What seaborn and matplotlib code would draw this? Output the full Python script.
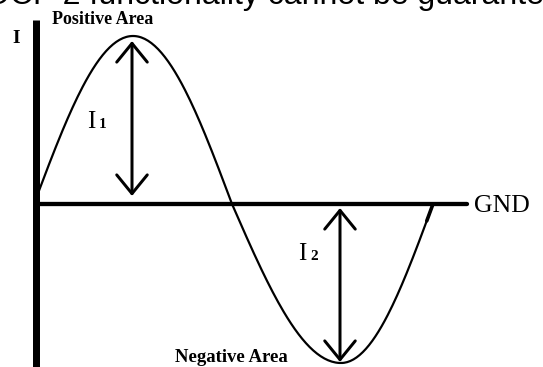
import numpy as np
import pandas as pd
import matplotlib
matplotlib.use("Agg")
import matplotlib.pyplot as plt
import seaborn as sns

# ---- data (pixel-like units, y grows downward) ----
header_text = "OCP 2 functionality cannot be guaranteed"
axis_label = "I"
gnd_label = "GND"
area_labels = ["Positive Area", "Negative Area"]
current_labels = ["I", "I"]
current_subs = ["1", "2"]

# waveform key points: zero, peak, zero, trough, zero
wave_key_x = [34, 133, 232, 341, 433]
wave_key_y = [204, 36, 204, 363, 204]
curve_start_x = 39
thick_end_from_y = 224

# axes
gnd_y = 204
gnd_end_x = 467
axis_x = 36
axis_top = 20

# current arrows (x, top tip, bottom tip)
arrow_x = [132, 340]
arrow_top = [41, 208]
arrow_bottom = [196, 362]

W, H = 543, 367
DPI = 100
PX = 72.0 / DPI  # points per pixel

sns.set_theme(style="white")
plt.rcParams["font.family"] = ["Liberation Serif", "DejaVu Serif"]

fig = plt.figure(figsize=(W / DPI, H / DPI), dpi=DPI)
fig.patch.set_facecolor("white")
ax = fig.add_axes([0, 0, 1, 1])
ax.set_xlim(0, W)
ax.set_ylim(H, 0)
ax.axis("off")

# build the waveform quarter by quarter through the read key points
xs, ys = [], []
for i in range(len(wave_key_x) - 1):
    x0, x1 = wave_key_x[i], wave_key_x[i + 1]
    y0, y1 = wave_key_y[i], wave_key_y[i + 1]
    t = np.linspace(0, 1, 60)
    if i % 2 == 0:   # zero -> extreme
        yy = y0 + (y1 - y0) * np.sin(np.pi * t / 2)
    else:            # extreme -> zero
        yy = y0 + (y1 - y0) * (1 - np.cos(np.pi * t / 2))
    xx = x0 + (x1 - x0) * t
    xs.extend(xx)
    ys.extend(yy)
wave = pd.DataFrame({"x": xs, "y": ys})
wave = wave[wave["x"] >= curve_start_x]

sns.lineplot(data=wave, x="x", y="y", sort=False, estimator=None,
             color="black", lw=2.2 * PX, ax=ax)
tail = wave[(wave["x"] > wave_key_x[3]) & (wave["y"] <= thick_end_from_y)]
sns.lineplot(data=tail, x="x", y="y", sort=False, estimator=None,
             color="black", lw=3.6 * PX, ax=ax)

# axes lines
ax.plot([axis_x, axis_x], [axis_top, H + 5], color="black", lw=7 * PX,
        solid_capstyle="butt")
ax.plot([axis_x, gnd_end_x], [gnd_y, gnd_y], color="black", lw=4.3 * PX,
        solid_capstyle="round")

# current arrows
for xa, yt, yb in zip(arrow_x, arrow_top, arrow_bottom):
    ax.annotate("", xy=(xa, yt), xytext=(xa, yb),
                arrowprops=dict(arrowstyle="<->,head_length=1.35,head_width=1.1",
                                color="black", lw=3.0 * PX,
                                shrinkA=0, shrinkB=0, mutation_scale=10))

# labels
ax.text(12, 43, axis_label, fontsize=14, fontweight="bold", va="baseline",
        ha="left", color="black")
ax.text(52, 24, area_labels[0], fontsize=13, fontweight="bold",
        va="baseline", ha="left", color="black")
ax.text(175, 362, area_labels[1], fontsize=13.5, fontweight="bold",
        va="baseline", ha="left", color="black")

label_pos = [(87, 128), (298, 260)]
for (lx, ly), lab, sub in zip(label_pos, current_labels, current_subs):
    ax.text(lx, ly, lab, fontsize=18, va="baseline", ha="left",
            color="black")
    ax.text(lx + 12, ly, sub, fontsize=11, fontweight="bold",
            va="baseline", ha="left", color="black")

ax.text(474, 212, gnd_label, fontsize=18.5, va="baseline", ha="left",
        color="black")

# header, partly cut off by the top edge (as in the reference)
ax.text(-15, 4, header_text, fontsize=23, va="baseline", ha="left",
        color="black", family=["Liberation Sans", "DejaVu Sans"],
        clip_on=False)

fig.savefig("out.png", dpi=DPI, facecolor="white")
